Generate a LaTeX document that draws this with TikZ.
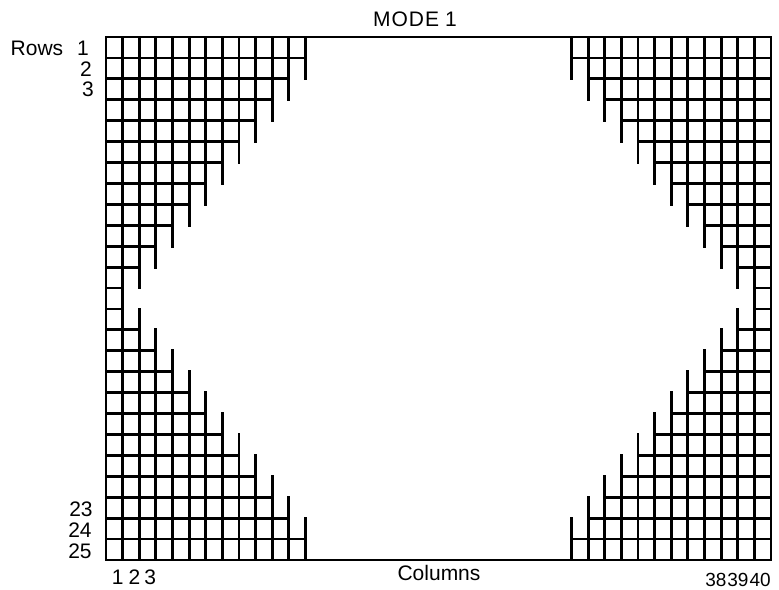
\documentclass[tikz,border=0pt]{standalone}
\usepackage{fontspec}
\setmainfont{Liberation Sans}
\begin{document}
\begin{tikzpicture}[x=1pt,y=-1pt,
  gridline/.style={line width=2.8pt, line cap=rect},
  lbl/.style={font=\fontsize{21}{24}\selectfont, inner sep=0pt}]
\useasboundingbox (0,0) rectangle (779,589);
\def\xo{106}\def\dx{16.625}\def\yo{37}\def\dy{20.92}
% outer frame
\draw[gridline] (\xo,\yo) rectangle ({\xo+40*\dx},{\yo+25*\dy});
% horizontal lines, upper half
\foreach \k in {1,...,12}{
  \pgfmathsetmacro\yy{\yo+\k*\dy}
  \pgfmathsetmacro\xl{\xo+(13-\k)*\dx}
  \pgfmathsetmacro\xr{\xo+(27+\k)*\dx}
  \draw[gridline] (\xo,\yy) -- (\xl,\yy);
  \draw[gridline] (\xr,\yy) -- ({\xo+40*\dx},\yy);
}
% horizontal lines, lower half
\foreach \k in {13,...,24}{
  \pgfmathsetmacro\yy{\yo+\k*\dy}
  \pgfmathsetmacro\xl{\xo+(\k-12)*\dx}
  \pgfmathsetmacro\xr{\xo+(52-\k)*\dx}
  \draw[gridline] (\xo,\yy) -- (\xl,\yy);
  \draw[gridline] (\xr,\yy) -- ({\xo+40*\dx},\yy);
}
% vertical lines
\foreach \c in {1,...,12}{
  \pgfmathsetmacro\xl{\xo+\c*\dx}
  \pgfmathsetmacro\xr{\xo+(40-\c)*\dx}
  \pgfmathsetmacro\ya{\yo+(14-\c)*\dy}
  \pgfmathsetmacro\yb{\yo+(11+\c)*\dy}
  \pgfmathsetmacro\yz{\yo+25*\dy}
  \draw[gridline] (\xl,\yo) -- (\xl,\ya);
  \draw[gridline] (\xl,\yb) -- (\xl,\yz);
  \draw[gridline] (\xr,\yo) -- (\xr,\ya);
  \draw[gridline] (\xr,\yb) -- (\xr,\yz);
}
% labels
\node[lbl] (title) at (415,19) {M\hspace{1pt}O\hspace{1pt}D\hspace{1pt}E\hspace{6pt}1};
\node[lbl] (rowsw) at (37,48) {Rows};
\node[lbl] (r1) at (83,48) {1};
\node[lbl] (r2) at (86,69) {2};
\node[lbl] (r3) at (88,89) {3};
\node[lbl] (r23) at (81,509) {23};
\node[lbl] (r24) at (80,530) {24};
\node[lbl] (r25) at (80,551) {25};
\node[lbl] (c123) at (134,577) {1\hspace{5pt}2\hspace{4pt}3};
\node[lbl] (cols) at (439,573) {Columns};
\node[lbl, font=\fontsize{19}{22}\selectfont] (c40) at (738,580) {38\hspace{1pt}39\hspace{1pt}40};
\end{tikzpicture}
\end{document}
